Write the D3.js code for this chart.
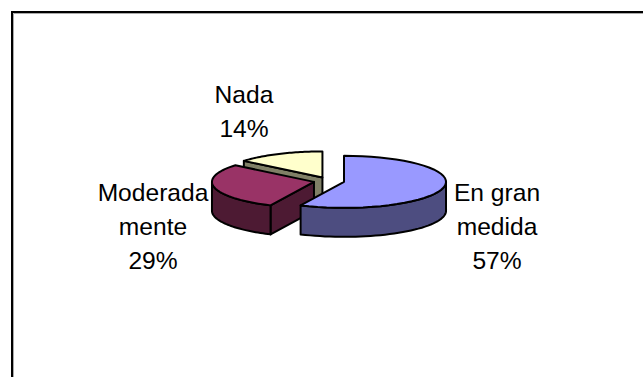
<!DOCTYPE html>
<html><head><meta charset="utf-8">
<script src="https://cdn.jsdelivr.net/npm/d3@7/dist/d3.min.js"></script>
<style>html,body{margin:0;padding:0;background:#fff}svg{display:block}text{font-family:"Liberation Sans",Arial,sans-serif;font-size:24.6px;fill:#000}</style>
</head><body><svg id="c" width="643" height="377"></svg>
<script>
const categories = ["En gran medida", "Moderadamente", "Nada"];
const values = [57, 29, 14];
const labelLines = [["En gran","medida","57%"],["Moderada","mente","29%"],["Nada","14%"]];
const topColors = ["#9999ff","#993366","#ffffcc"];
const sideColors = ["#4d4d80","#4d1a33","#808066"];
const labelPos = [[497,201],[153,201],[244,103]];

const W=643,H=377,cx=329,cy=181,rx=102,ry=26,depth=29,explode=15.4,lh=34;
const svg=d3.select("#c");
svg.append("rect").attr("width",W).attr("height",H).attr("fill","#fff");
svg.append("path").attr("d",`M${W},13.5H13.5V${H}`).attr("fill","none").attr("stroke","#aaa").attr("stroke-width",1);
svg.append("path").attr("d",`M${W},12H12V${H}`).attr("fill","none").attr("stroke","#000").attr("stroke-width",2);

const arcs=d3.pie().sort(null).value(d=>d)(values);
const line=d3.line();
const pts=(a0,a1)=>d3.range(41).map(i=>a0+(a1-a0)*i/40);
const layers=[2,1,0];
layers.forEach(i=>{
  const a=arcs[i], mid=(a.startAngle+a.endAngle)/2;
  const ox=cx+explode*Math.sin(mid), oy=cy-explode*Math.cos(mid)*ry/rx;
  const P=(t,dz=0)=>[ox+rx*Math.sin(t),oy-ry*Math.cos(t)+dz];
  const g=svg.append("g");
  const style=(sel,fill)=>sel.attr("fill",fill).attr("stroke","#000").attr("stroke-width",2).attr("stroke-linejoin","round");
  // cut face, visible when it faces the viewer
  const cutFace=t=>style(g.append("path").attr("d",line([[ox,oy],P(t),P(t,depth),[ox,oy+depth]])+"Z"),sideColors[i]);
  if(i===1) cutFace(a.startAngle);
  if(i===2) cutFace(a.startAngle);
  // outer wall, front half only
  const lo=Math.max(a.startAngle,Math.PI/2), hi=Math.min(a.endAngle,3*Math.PI/2);
  if(hi>lo){
    const ts=pts(lo,hi);
    style(g.append("path").attr("d",line(ts.map(t=>P(t)).concat(ts.slice().reverse().map(t=>P(t,depth))))+"Z"),sideColors[i]);
  }
  // top face
  const top=[[ox,oy]].concat(pts(a.startAngle,a.endAngle).map(t=>P(t)));
  style(g.append("path").attr("d",line(top)+"Z"),topColors[i]);
});

labelLines.forEach((ls,i)=>{
  const t=svg.append("text").attr("text-anchor","middle");
  ls.forEach((s,j)=>t.append("tspan").attr("x",labelPos[i][0]).attr("y",labelPos[i][1]+j*lh).text(s));
});
</script></body></html>
